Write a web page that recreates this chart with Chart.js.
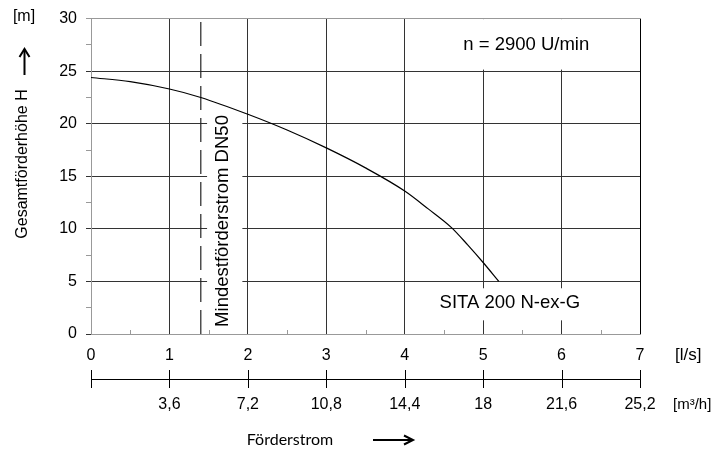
<!DOCTYPE html>
<html>
<head>
<meta charset="utf-8">
<script src="https://cdn.jsdelivr.net/npm/chart.js@4.4.1/dist/chart.umd.min.js"></script>
<style>
  html, body { margin: 0; padding: 0; background: #fff; }
  canvas { display: block; }
</style>
</head>
<body>
<canvas id="myChart" width="723" height="450"></canvas>
<script>
// Pump curve SITA 200 N-ex-G
const flowLs = [0, 0.5, 1, 1.4, 2, 2.5, 3, 3.5, 4, 4.3, 4.6, 4.8, 5, 5.2];
const headM = [24.4, 24.0, 23.3, 22.5, 20.9, 19.4, 17.7, 15.8, 13.6, 11.9, 10.1, 8.5, 6.8, 5.0];

const minFlowDN50 = 1.4; // dashed line "Mindestförderstrom DN50"

const yTicks = [0, 5, 10, 15, 20, 25, 30];
const lsTicks = [0, 1, 2, 3, 4, 5, 6, 7];
const m3hTicks = [0, 3.6, 7.2, 10.8, 14.4, 18, 21.6, 25.2];

const FONT = '"Liberation Sans", Arial, sans-serif';
const GRID = '#333';
const GREY = '#999';

// Draws the texts, white label boxes and the extra axis marks
const decorations = {
    id: 'decorations',
    beforeDatasetsDraw(chart) {
        const { ctx } = chart;
        const x = chart.scales.x, y = chart.scales.y;
        ctx.save();
        ctx.fillStyle = '#fff';
        // box behind "n = 2900 U/min"
        ctx.fillRect(x.getPixelForValue(4.07), y.getPixelForValue(29.95), x.getPixelForValue(6.98) - x.getPixelForValue(4.07), y.getPixelForValue(25.15) - y.getPixelForValue(29.95));
        // box behind "SITA 200 N-ex-G"
        ctx.fillRect(x.getPixelForValue(4.4), y.getPixelForValue(4.35), x.getPixelForValue(6.35) - x.getPixelForValue(4.4), y.getPixelForValue(1.3) - y.getPixelForValue(4.35));
        // box behind rotated text
        ctx.fillRect(x.getPixelForValue(1.48), y.getPixelForValue(21.2), x.getPixelForValue(1.93) - x.getPixelForValue(1.48), y.getPixelForValue(0.1) - y.getPixelForValue(21.2));

        ctx.fillStyle = '#000';
        ctx.font = '18.5px ' + FONT;
        ctx.textAlign = 'center';
        ctx.textBaseline = 'middle';
        ctx.fillText('n = 2900 U/min', x.getPixelForValue(5.55), y.getPixelForValue(27.5));
        ctx.fillText('SITA 200 N-ex-G', x.getPixelForValue(5.34), y.getPixelForValue(2.95));

        ctx.save();
        ctx.translate(x.getPixelForValue(1.68), y.getPixelForValue(10.75));
        ctx.rotate(-Math.PI / 2);
        ctx.fillText('Mindestförderstrom DN50', 0, 0);
        ctx.restore();
        ctx.restore();
    },
    afterDraw(chart) {
        const { ctx } = chart;
        const x = chart.scales.x, x2 = chart.scales.x2;
        const area = chart.chartArea;
        ctx.save();

        // minor ticks on the l/s axis
        ctx.strokeStyle = GREY;
        ctx.lineWidth = 1;
        for (let v = 0.5; v < 7; v += 1) {
            const px = Math.round(x.getPixelForValue(v)) + 0.5;
            ctx.beginPath();
            ctx.moveTo(px, area.bottom);
            ctx.lineTo(px, area.bottom - 4);
            ctx.stroke();
        }

        // ticks crossing the m3/h axis line
        ctx.strokeStyle = '#000';
        m3hTicks.forEach(v => {
            const px = Math.round(x2.getPixelForValue(v)) + 0.5;
            ctx.beginPath();
            ctx.moveTo(px, x2.top - 9);
            ctx.lineTo(px, x2.top + 9);
            ctx.stroke();
        });

        ctx.fillStyle = '#000';
        ctx.font = '17px ' + FONT;
        ctx.textBaseline = 'middle';
        ctx.textAlign = 'left';
        ctx.fillText('[l/s]', 675, 355);
        ctx.font = '15px ' + FONT;
        ctx.fillText('[m³/h]', 673, 405);

        // y axis title with arrow
        ctx.font = '16px ' + FONT;
        ctx.textAlign = 'center';
        ctx.fillText('[m]', 24, 17);
        ctx.save();
        ctx.translate(23, 164);
        ctx.rotate(-Math.PI / 2);
        ctx.fillText('Gesamtförderhöhe H', 0, 0);
        ctx.restore();

        ctx.lineWidth = 2;
        ctx.beginPath();
        ctx.moveTo(24.5, 75);
        ctx.lineTo(24.5, 51);
        ctx.stroke();
        ctx.beginPath();
        ctx.moveTo(19.5, 57);
        ctx.lineTo(24.5, 49);
        ctx.lineTo(29.5, 57);
        ctx.stroke();

        // x axis title with arrow
        ctx.font = '16px Lato, "Open Sans", sans-serif';
        ctx.fillText('Förderstrom', 290, 440);
        ctx.beginPath();
        ctx.moveTo(373, 440);
        ctx.lineTo(411, 440);
        ctx.stroke();
        ctx.beginPath();
        ctx.moveTo(404, 435.5);
        ctx.lineTo(413, 440);
        ctx.lineTo(404, 444.5);
        ctx.stroke();

        ctx.restore();
    }
};

const ctx = document.getElementById('myChart').getContext('2d');

new Chart(ctx, {
    type: 'line',
    data: {
        datasets: [
            {
                label: 'SITA 200 N-ex-G',
                data: flowLs.map((q, i) => ({ x: q, y: headM[i] })),
                borderColor: '#000',
                borderWidth: 1.2,
                pointRadius: 0,
                cubicInterpolationMode: 'monotone',
                fill: false,
                xAxisID: 'x',
                yAxisID: 'y'
            },
            {
                label: 'Mindestförderstrom DN50',
                data: [{ x: minFlowDN50, y: yTicks[0] }, { x: minFlowDN50, y: yTicks[yTicks.length - 1] }],
                borderColor: '#222',
                borderWidth: 1.2,
                borderDash: [24, 8],
                pointRadius: 0,
                fill: false,
                xAxisID: 'x',
                yAxisID: 'y'
            }
        ]
    },
    options: {
        responsive: false,
        animation: false,
        layout: { padding: { left: 0, right: 83, top: 16, bottom: 0 } },
        plugins: {
            legend: { display: false },
            tooltip: { enabled: false }
        },
        scales: {
            x: {
                type: 'linear',
                position: 'bottom',
                weight: 0,
                min: lsTicks[0],
                max: lsTicks[lsTicks.length - 1],
                afterFit: s => { s.height = 45; },
                ticks: {
                    stepSize: 1,
                    autoSkip: false,
                    maxRotation: 0,
                    padding: 12,
                    color: '#000',
                    font: { family: FONT, size: 16 }
                },
                grid: {
                    drawTicks: false,
                    lineWidth: 1,
                    color: c => {
                        const v = c.tick ? c.tick.value : 0;
                        if (v === 0) return 'transparent';
                        return v === 7 ? '#000' : GRID;
                    }
                },
                border: { display: true, color: GREY, width: 1 }
            },
            x2: {
                type: 'linear',
                position: 'bottom',
                weight: 1,
                min: m3hTicks[0],
                max: m3hTicks[m3hTicks.length - 1],
                afterFit: s => { s.height = 71; },
                afterBuildTicks: s => { s.ticks = m3hTicks.map(v => ({ value: v })); },
                ticks: {
                    autoSkip: false,
                    maxRotation: 0,
                    padding: 16,
                    color: '#000',
                    font: { family: FONT, size: 16 },
                    callback: v => v === 0 ? '' : String(v).replace('.', ',')
                },
                grid: { drawOnChartArea: false, drawTicks: false },
                border: { display: true, color: '#000', width: 1 }
            },
            y: {
                type: 'linear',
                position: 'left',
                min: yTicks[0],
                max: yTicks[yTicks.length - 1],
                afterFit: s => { s.width = 91; },
                ticks: {
                    stepSize: 2.5,
                    autoSkip: false,
                    padding: 9,
                    color: '#000',
                    font: { family: FONT, size: 16 },
                    callback: v => yTicks.includes(v) ? v : ''
                },
                grid: {
                    tickLength: 5,
                    lineWidth: 1,
                    color: c => {
                        const v = c.tick ? c.tick.value : 0;
                        if (!yTicks.includes(v) || v === 0) return 'transparent';
                        return v === 30 ? GREY : GRID;
                    },
                    tickColor: c => {
                        const v = c.tick ? c.tick.value : 0;
                        return (yTicks.includes(v) && v !== 30) ? GRID : GREY;
                    }
                },
                border: { display: true, color: GREY, width: 1 }
            }
        }
    },
    plugins: [decorations]
});
</script>
</body>
</html>
